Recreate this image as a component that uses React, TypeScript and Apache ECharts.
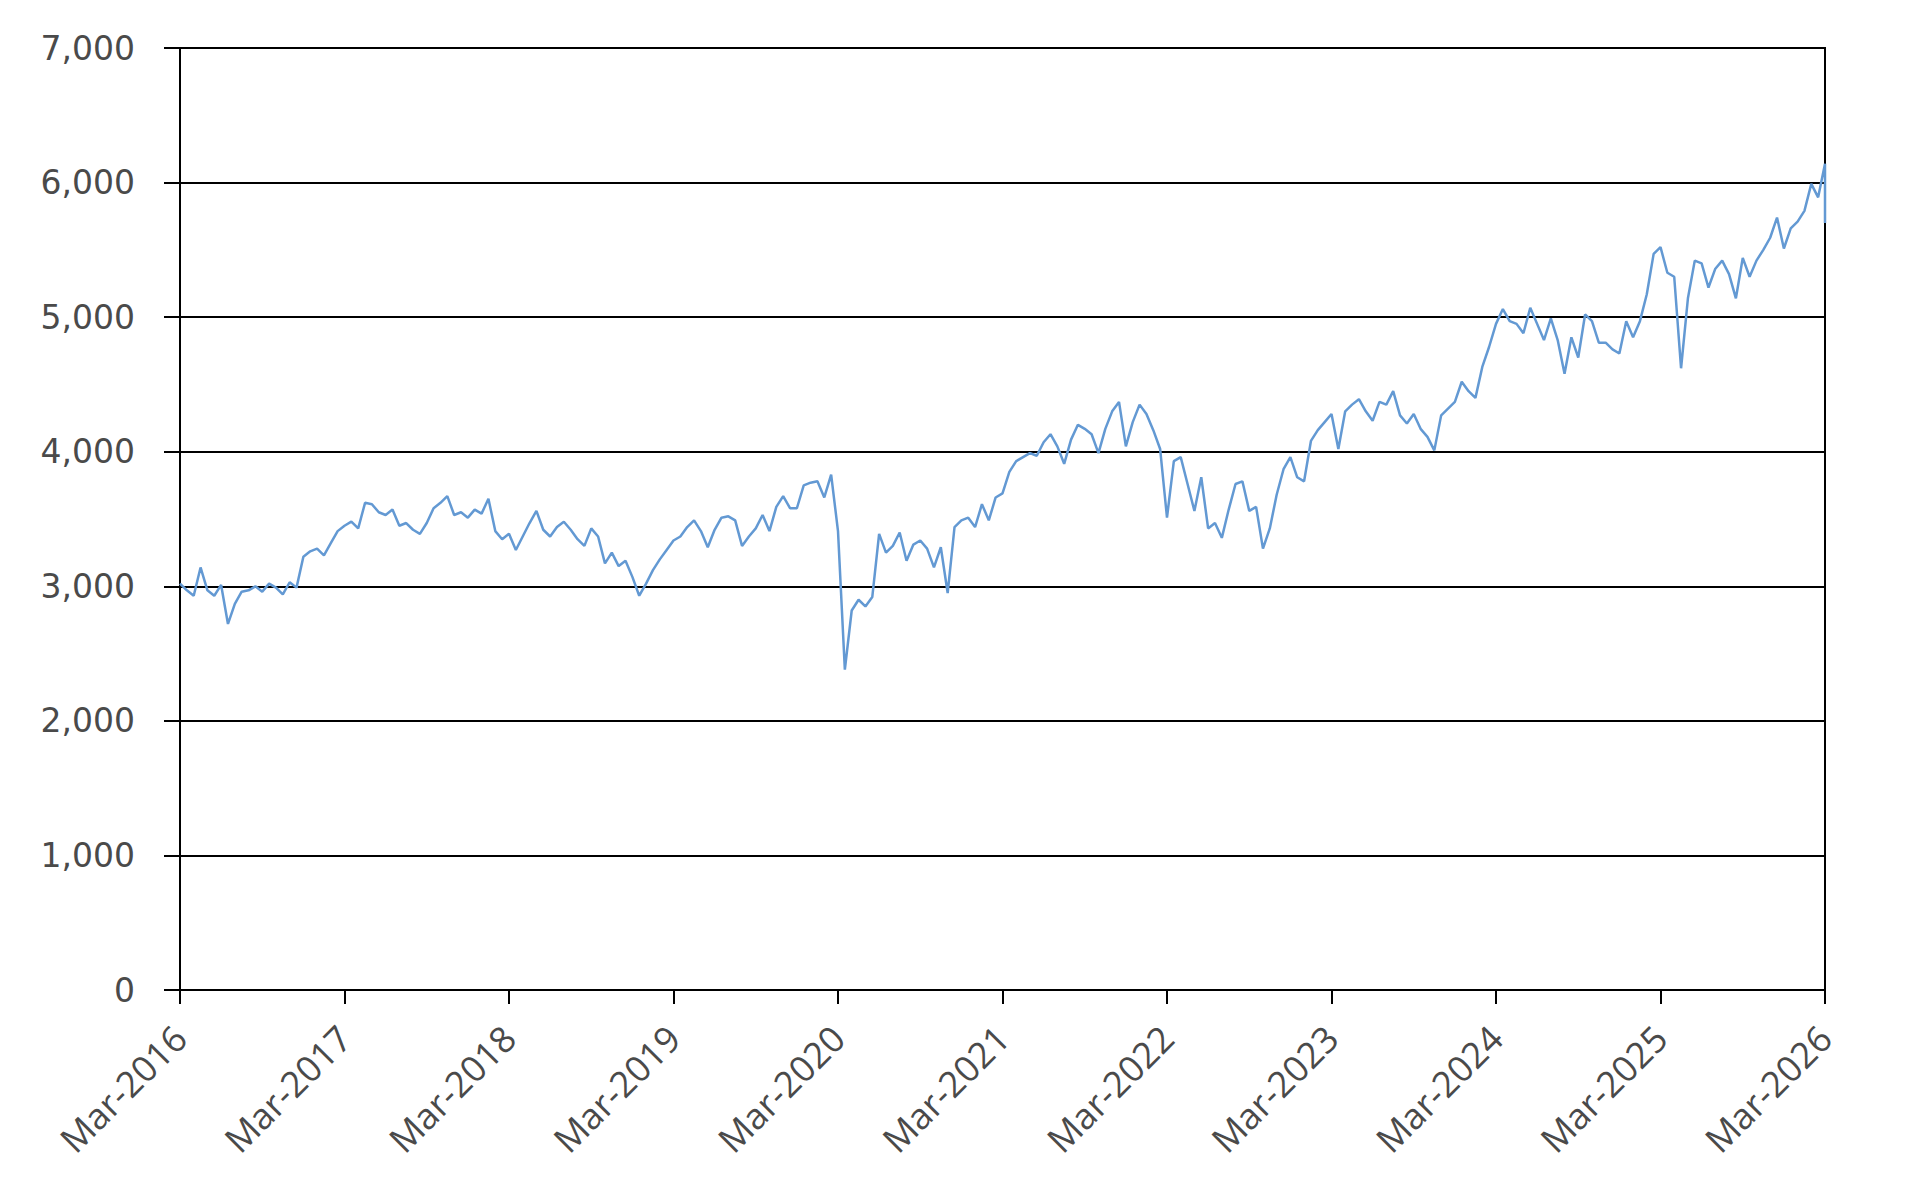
import React, { useEffect, useRef } from "react";
import * as echarts from "echarts";

// Index level, sampled twice a month starting Mar-2016
const startYear = 2016;
const stepMonths = 0.5;

const y2016 = [3020, 2970, 2930, 3140, 2970, 2930, 3010, 2720, 2870, 2960, 2970, 3000, 2960, 3020, 2990, 2940, 3030, 2990, 3220, 3260, 3280, 3230, 3320, 3410];
const y2017 = [3450, 3480, 3430, 3620, 3610, 3550, 3530, 3570, 3450, 3470, 3420, 3390, 3470, 3580, 3620, 3670, 3530, 3550, 3510, 3570, 3540, 3650, 3410, 3350];
const y2018 = [3390, 3270, 3370, 3470, 3560, 3420, 3370, 3440, 3480, 3420, 3350, 3300, 3430, 3370, 3170, 3250, 3150, 3190, 3070, 2930, 3020, 3120, 3200, 3270];
const y2019 = [3340, 3370, 3440, 3490, 3410, 3290, 3420, 3510, 3520, 3490, 3300, 3370, 3430, 3530, 3410, 3590, 3670, 3580, 3580, 3750, 3770, 3780, 3660, 3830];
const y2020 = [3410, 2380, 2820, 2900, 2850, 2920, 3390, 3250, 3300, 3400, 3190, 3310, 3340, 3280, 3140, 3290, 2950, 3440, 3490, 3510, 3440, 3610, 3490, 3660];
const y2021 = [3690, 3850, 3930, 3960, 3990, 3970, 4070, 4130, 4040, 3910, 4090, 4200, 4170, 4130, 3990, 4170, 4300, 4370, 4040, 4220, 4350, 4280, 4160, 4020];
const y2022 = [3510, 3930, 3960, 3760, 3560, 3810, 3430, 3470, 3360, 3570, 3760, 3780, 3560, 3590, 3280, 3430, 3680, 3870, 3960, 3810, 3780, 4080, 4160, 4220];
const y2023 = [4280, 4020, 4300, 4350, 4390, 4300, 4230, 4370, 4350, 4450, 4270, 4210, 4280, 4170, 4110, 4010, 4270, 4320, 4370, 4520, 4450, 4400, 4630, 4780];
const y2024 = [4950, 5060, 4970, 4950, 4880, 5070, 4950, 4830, 4990, 4830, 4580, 4850, 4700, 5020, 4970, 4810, 4810, 4760, 4730, 4970, 4850, 4970, 5170, 5470];
const y2025 = [5520, 5330, 5300, 4620, 5140, 5420, 5400, 5220, 5360, 5420, 5320, 5140, 5440, 5300, 5420, 5500, 5590, 5740, 5510, 5660, 5710, 5790, 5990, 5890];
const endValues = [6140, 5700];

const yMin = 0;
const yMax = 7000;
const yStep = 1000;

export default function App() {
  const ref = useRef<HTMLDivElement>(null);
  useEffect(() => {
    document.body.style.margin = "0";
    const chart = echarts.init(ref.current!, null, { renderer: "svg" });
    const all = [...y2016, ...y2017, ...y2018, ...y2019, ...y2020, ...y2021, ...y2022, ...y2023, ...y2024, ...y2025];
    const data: number[][] = all.map((v, i) => [i * stepMonths, v]);
    const lastX = all.length * stepMonths;
    endValues.forEach((v) => data.push([lastX, v]));
    chart.setOption({
      animation: false,
      grid: {
        left: 180,
        right: 93,
        top: 48,
        bottom: 208,
        show: true,
        borderColor: "#000",
        borderWidth: 2,
        backgroundColor: "transparent",
      },
      xAxis: {
        type: "value",
        min: 0,
        max: 120,
        interval: 12,
        axisLine: { show: true, onZero: false, lineStyle: { color: "#000", width: 2 } },
        axisTick: { show: true, length: 14, lineStyle: { color: "#000", width: 2 } },
        splitLine: { show: false },
        axisLabel: {
          rotate: 45,
          margin: 42,
          fontFamily: "Open Sans",
          fontSize: 36,
          color: "#4a4a4a",
          formatter: (v: number) => "Mar-" + (startYear + Math.round(v / 12)),
        },
      },
      yAxis: {
        type: "value",
        min: yMin,
        max: yMax,
        interval: yStep,
        axisLine: { show: true, lineStyle: { color: "#000", width: 2 } },
        axisTick: { show: true, length: 16, lineStyle: { color: "#000", width: 2 } },
        splitLine: { show: true, lineStyle: { color: "#000", width: 2 } },
        axisLabel: {
          margin: 45,
          fontFamily: "DejaVu Sans",
          fontSize: 33,
          color: "#4a4a4a",
          formatter: (v: number) => v.toLocaleString("en-US"),
        },
      },
      series: [
        {
          type: "line",
          data,
          showSymbol: false,
          silent: true,
          lineStyle: { color: "#6399d3", width: 2.5 },
        },
      ],
    });
    return () => chart.dispose();
  }, []);
  return <div ref={ref} style={{ width: 1918, height: 1198 }} />;
}
